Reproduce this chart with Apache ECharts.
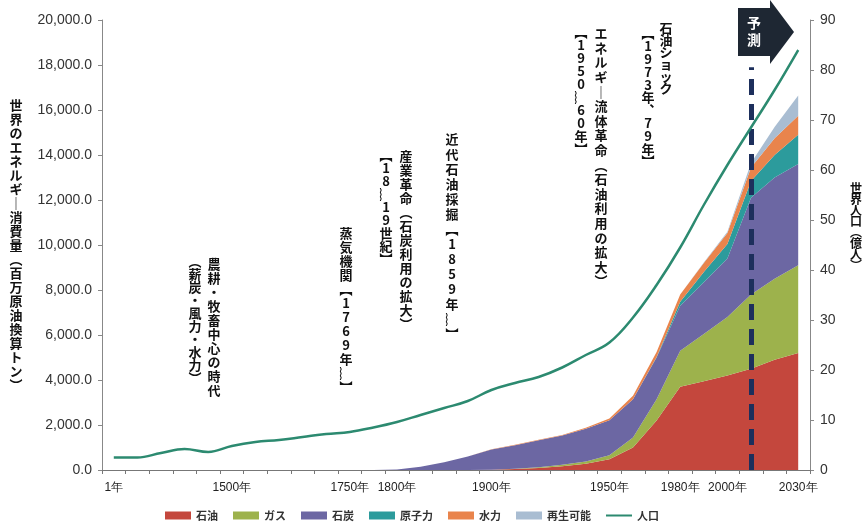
<!DOCTYPE html>
<html><head><meta charset="utf-8">
<script src="https://cdn.jsdelivr.net/npm/echarts@6/dist/echarts.min.js"></script>
<style>html,body{margin:0;padding:0;background:#fff}#c{width:863px;height:524px}</style>
</head><body><div id="c"></div>
<script>
const years = ['1年','1000年','1200年','1300年','1400年','1500年','1600年','1650年','1700年','1725年','1750年','1775年','1800年','1825年','1850年','1875年','1900年','1910年','1920年','1930年','1940年','1950年','1960年','1970年','1980年','1990年','2000年','2010年','2020年','2030年'];
const shownLabels = ['1年','1500年','1750年','1800年','1900年','1950年','1980年','2000年','2030年'];
const oil   = [0,0,0,0,0,0,0,0,0,0,0,0,0,0,0,0,10,40,90,170,280,480,1000,2200,3700,3950,4200,4500,4900,5200];
const gas   = [0,0,0,0,0,0,0,0,0,0,0,0,0,0,0,0,5,15,30,60,100,180,450,950,1600,2100,2600,3300,3600,3900];
const coal  = [0,0,0,0,0,0,0,0,0,0,0,0,20,150,350,600,900,1050,1200,1300,1450,1550,1700,1850,2000,2300,2600,4300,4500,4500];
const nuclear = [0,0,0,0,0,0,0,0,0,0,0,0,0,0,0,0,0,0,0,0,0,0,0,20,180,450,650,750,1000,1300];
const hydro = [0,0,0,0,0,0,0,0,0,0,0,0,0,0,0,0,10,15,20,30,50,80,150,230,320,400,480,600,750,850];
const renewable = [0,0,0,0,0,0,0,0,0,0,0,0,0,0,0,0,0,0,0,0,0,0,0,0,0,20,60,200,500,900];
const population = [2.5,2.5,3.4,4.2,3.6,4.8,5.6,6.0,6.6,7.2,7.6,8.5,9.6,11.0,12.4,13.8,16.0,17.4,18.6,20.5,23.0,25.5,30.5,37.0,44.5,53.0,61.0,68.5,76.0,84.0];
const forecastYear = '2010年';

const CJK = '"Noto Sans CJK JP","Noto Sans",sans-serif';
const LAT = '"Liberation Sans",Arial,sans-serif';
const vmap = {'（':'︵','）':'︶','【':'︻','】':'︼','ー':'｜','～':'︴','、':'︑'};
function vert(s){ return Array.from(s).map(c => vmap[c] || c).join('\n'); }
function vText(x, y, s, size, lh){
  return {type:'text', x:x, y:y, style:{text:vert(s), fill:'#111', font:'bold '+(size||13)+'px '+CJK, lineHeight:lh||14, align:'center', verticalAlign:'top'}};
}

const chart = echarts.init(document.getElementById('c'));
const areaSeries = (name, data, color) => ({
  name, type:'line', stack:'e', data, symbol:'none', yAxisIndex:0,
  lineStyle:{width:0}, areaStyle:{color, opacity:1}, itemStyle:{color}
});
const lineIcon = 'path://M0,0h0.1v0.1h-0.1zM0,3h26v2h-26zM25.9,7.9h0.1v0.1h-0.1z';
const option = {
  backgroundColor:'#fff',
  animation:false,
  grid:{left:102, right:53, top:20, bottom:54},
  legend:{
    left:160, top:505, itemWidth:26, itemHeight:8, itemGap:15,
    textStyle:{fontSize:11, fontWeight:'bold', color:'#333', fontFamily:CJK},
    data:[
      {name:'石油', icon:'rect'},{name:'ガス', icon:'rect'},{name:'石炭', icon:'rect'},
      {name:'原子力', icon:'rect'},{name:'水力', icon:'rect'},{name:'再生可能', icon:'rect'},
      {name:'人口', icon:lineIcon}
    ]
  },
  xAxis:{
    type:'category', data:years, boundaryGap:true,
    axisLine:{lineStyle:{color:'#777'}},
    axisTick:{show:true, interval:0, length:4, lineStyle:{color:'#777'}},
    axisLabel:{interval:0, color:'#222', fontSize:12, fontFamily:LAT, margin:12,
      formatter: v => shownLabels.includes(v) ? v : ''}
  },
  yAxis:[
    {type:'value', min:0, max:20000, interval:2000, position:'left',
     axisLine:{show:true, lineStyle:{color:'#888'}},
     axisTick:{show:true, length:4, lineStyle:{color:'#888'}},
     splitLine:{show:false},
     axisLabel:{color:'#333', fontSize:14, fontFamily:LAT, margin:10,
       formatter: v => v.toLocaleString('en-US',{minimumFractionDigits:1, maximumFractionDigits:1})}},
    {type:'value', min:0, max:90, interval:10, position:'right',
     axisLine:{show:true, lineStyle:{color:'#888'}},
     axisTick:{show:true, length:4, lineStyle:{color:'#888'}},
     splitLine:{show:false},
     axisLabel:{color:'#333', fontSize:14, fontFamily:LAT, margin:10}}
  ],
  series:[
    Object.assign(areaSeries('石油', oil, '#c4473d'), {
      markLine:{silent:true, symbol:'none', label:{show:false},
        lineStyle:{color:'#1d2f5c', width:5, type:[16,9], opacity:1},
        data:[[{coord:[forecastYear,0]},{coord:[forecastYear,17900]}]]}
    }),
    areaSeries('ガス', gas, '#9db24c'),
    areaSeries('石炭', coal, '#6c67a3'),
    areaSeries('原子力', nuclear, '#2c9b9c'),
    areaSeries('水力', hydro, '#e9844c'),
    areaSeries('再生可能', renewable, '#a9bdd2'),
    {name:'人口', type:'line', yAxisIndex:1, data:population, symbol:'none', smooth:0.4,
     lineStyle:{color:'#2c8a70', width:2.5}, itemStyle:{color:'#2c8a70'}, z:5}
  ],
  graphic:[
    vText(16, 98, '世界のエネルギー消費量（百万原油換算トン）', 13, 14),
    vText(856, 183, '世界人口（億人）', 12, 11),
    vText(214, 257, '農耕・牧畜中心の時代', 13, 14),
    vText(195, 255, '（薪炭・風力・水力）', 13, 13),
    vText(346, 226, '蒸気機関【1769年～】', 13, 14),
    vText(406, 149, '産業革命（石炭利用の拡大）', 13, 14),
    vText(386, 149, '【18～19世紀】', 13, 13),
    vText(452, 132, '近代石油採掘【1859年～】', 13, 15),
    vText(601, 26, 'エネルギー流体革命（石油利用の拡大）', 13, 14.6),
    vText(581, 26, '【1950～60年】', 13, 13),
    vText(666, 22, '石油ショック', 13, 12),
    vText(648, 27, '【1973年、79年】', 13, 12.8),
    {type:'polygon', shape:{points:[[738,8],[770,8],[770,0],[794,32],[770,64],[770,56],[738,56]]},
     style:{fill:'#1e2733'}},
    {type:'text', x:754, y:14, style:{text:'予\n測', fill:'#fff', font:'bold 14px '+CJK, lineHeight:17, align:'center', verticalAlign:'top'}}
  ]
};
chart.setOption(option);
</script></body></html>
